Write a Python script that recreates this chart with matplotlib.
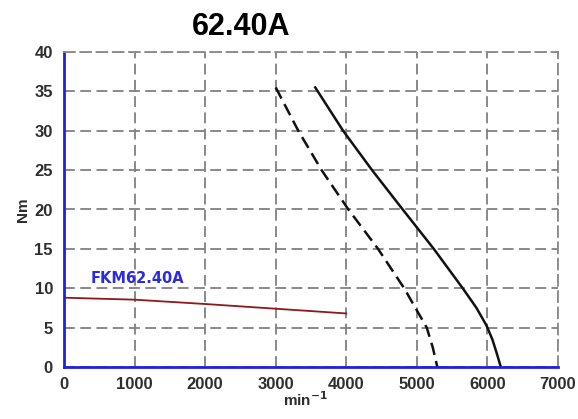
import matplotlib
matplotlib.use("Agg")
import matplotlib.pyplot as plt

# limit curves (speed in min^-1, torque in Nm)
speed_solid = [3560, 3955, 4365, 4800, 5240, 5650, 5845, 5985, 6070, 6130, 6190]
torque_solid = [35.5, 30, 25, 20, 15, 10, 7.5, 5.3, 3.5, 1.8, 0]

speed_dashed = [3000, 3320, 3650, 4030, 4450, 4820, 5140, 5225, 5290]
torque_dashed = [35.5, 30, 25, 20, 15, 10, 5, 2.5, 0]

speed_rated = [0, 1000, 2000, 3000, 4000]
torque_rated = [8.8, 8.55, 8.0, 7.4, 6.8]

x_ticks = [0, 1000, 2000, 3000, 4000, 5000, 6000, 7000]
y_ticks = [0, 5, 10, 15, 20, 25, 30, 35, 40]

plt.rcParams["font.family"] = ["Liberation Sans", "DejaVu Sans"]

fig = plt.figure(figsize=(5.78, 4.19), dpi=100)
fig.patch.set_facecolor("white")
ax = fig.add_axes([64 / 578, 1 - 367 / 419, 494 / 578, 315 / 419])

ax.plot(speed_rated, torque_rated, color="#8b1a1a", linewidth=1.3)
ax.plot(speed_solid, torque_solid, color="#111111", linewidth=1.8)
ax.plot(speed_dashed, torque_dashed, color="#111111", linewidth=1.8,
        linestyle=(0, (5, 2.5)))

ax.set_xlim(0, 7000)
ax.set_ylim(0, 40)
ax.set_xticks(x_ticks)
ax.set_yticks(y_ticks)
ax.grid(True, color="#808080", linestyle=(0, (6, 3)), linewidth=1.3)

for side in ("top", "right"):
    ax.spines[side].set_color("#8a8a8a")
    ax.spines[side].set_linestyle((0, (6, 3)))
    ax.spines[side].set_linewidth(1.3)
for side in ("left", "bottom"):
    ax.spines[side].set_color("#2020e0")
    ax.spines[side].set_linewidth(2.0)

ax.tick_params(length=0, labelsize=12, labelcolor="#2e2e2e")
ax.tick_params(axis="x", pad=7)
ax.tick_params(axis="y", pad=8)
for lab in ax.get_xticklabels() + ax.get_yticklabels():
    lab.set_fontweight("bold")

ax.text(1040, 11.2, "FKM62.40A", color="#2a2adf", fontsize=10.5,
        fontweight="bold", ha="center", va="center", family="DejaVu Sans")

ax.set_ylabel("Nm", fontsize=11, fontweight="bold", color="#2e2e2e", labelpad=3)
fig.text(0.528, 0.045, "min$^{\\mathbf{-1}}$", fontsize=11, fontweight="bold",
         color="#2e2e2e", ha="center", va="center")
fig.text(0.417, 0.936, "62.40A", fontsize=22, fontweight="bold",
         color="black", ha="center", va="center")

fig.savefig("out.png", dpi=100, facecolor="white")
